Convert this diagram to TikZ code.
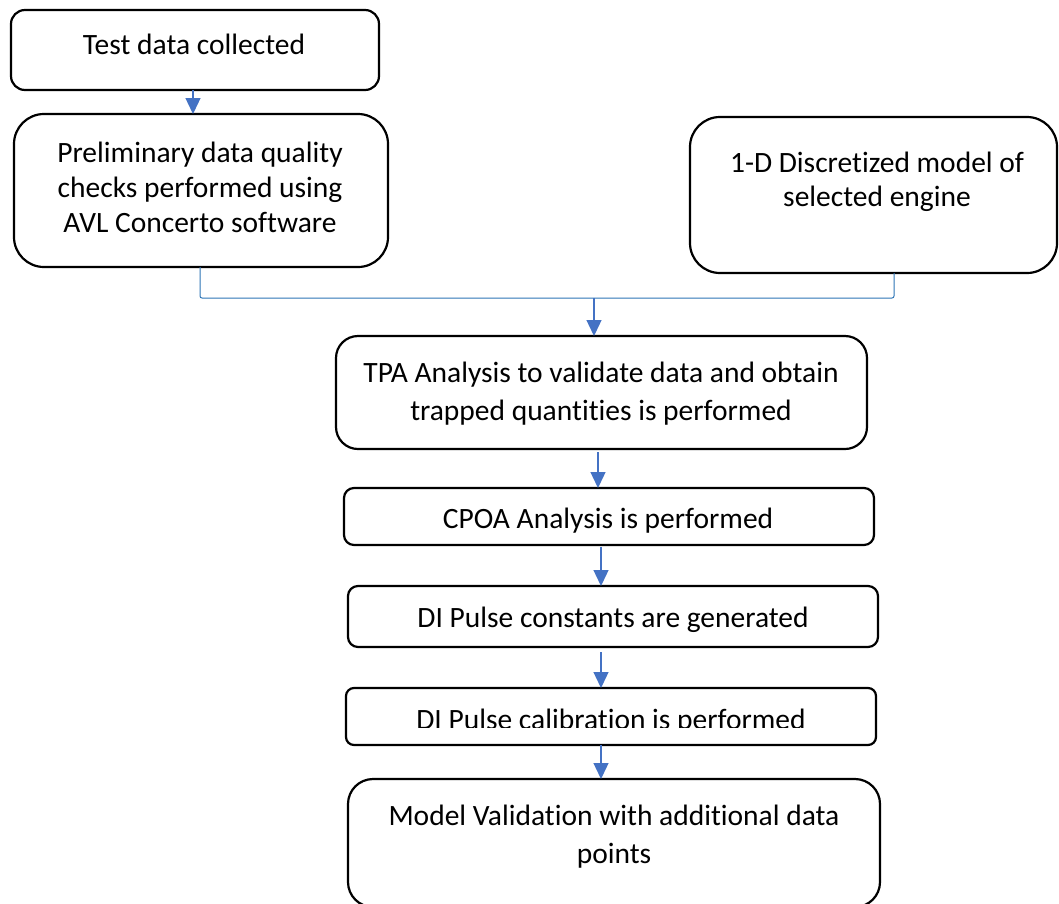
\documentclass[tikz,border=0pt]{standalone}
\usepackage{fontspec}
\setmainfont{Carlito}[Ligatures=NoCommon]
\usetikzlibrary{arrows.meta}
\definecolor{flowblue}{RGB}{68,114,196}
\definecolor{joinblue}{RGB}{46,117,182}
\begin{document}
\begin{tikzpicture}[x=1pt,y=-1pt,
  box/.style={draw=black,line width=2.2pt,inner sep=0pt,outer sep=0pt,fill=white},
  txt/.style={font=\fontsize{29.5}{36}\selectfont,align=center,inner sep=0pt,anchor=base},
  arr/.style={draw=flowblue,line width=1.3pt,-{Triangle[width=15pt,length=16pt]},shorten >=0pt},
  brk/.style={draw=joinblue,line width=1pt,rounded corners=2pt}]
\useasboundingbox (0,0) rectangle (1059,903);
\clip (0,0) rectangle (1059,903);
\fill[white] (0,0) rectangle (1059,903);

% process boxes
\node[box,rounded corners=14pt,minimum width=368pt,minimum height=80pt] (test) at (195,50) {};
\node[box,rounded corners=30pt,minimum width=374pt,minimum height=153pt] (prelim) at (201,190.5) {};
\node[box,rounded corners=30pt,minimum width=367pt,minimum height=156pt] (engine) at (873.5,195) {};
\node[box,rounded corners=22pt,minimum width=531pt,minimum height=113pt] (tpa) at (601.5,392.5) {};
\node[box,rounded corners=10pt,minimum width=530pt,minimum height=57pt] (cpoa) at (609,516.5) {};
\node[box,rounded corners=10pt,minimum width=530pt,minimum height=61pt] (dicon) at (613,616.5) {};
\node[box,rounded corners=8pt,minimum width=530pt,minimum height=57pt] (dical) at (611,716.5) {};
\node[box,rounded corners=25pt,minimum width=532pt,minimum height=128pt] (valid) at (614,843) {};

% box texts (base anchor = baseline of the last line)
\node[txt] (ttest) at (194,54) {Test data collected};
\node[txt,font=\fontsize{29.5}{35}\selectfont] (tprelim) at (200,232) {Preliminary data quality\\checks performed using\\AVL Concerto software};
\node[txt,font=\fontsize{29.5}{34}\selectfont] (tengine) at (877,206) {1-D Discretized model of\\selected engine};
\node[txt,font=\fontsize{29.5}{38}\selectfont] (ttpa) at (601,420) {TPA Analysis to validate data and obtain\\trapped quantities is performed};
\node[txt] (tcpoa) at (608,528) {CPOA Analysis is performed};
\node[txt] (tdicon) at (613,627) {DI Pulse constants are generated};
\begin{scope}
  \clip (346,688) rectangle (876,727);
  \node[txt] (tdical) at (611,729) {DI Pulse calibration is performed};
\end{scope}
\node[txt,font=\fontsize{29.5}{38}\selectfont] (tvalid) at (614,863) {Model Validation with additional data\\points};

% connectors
\draw[arr] (193,0 |- test.south) -- (193,0 |- prelim.north);
\coordinate (join) at (594,298);
\draw[brk] (200,0 |- prelim.south) -- (200,0 |- join) -- (894,0 |- join) -- (894,0 |- engine.south);
\draw[arr] (join) -- (594,0 |- tpa.north);
\draw[arr] (598,0 |- tpa.south) ++(0,3) -- (598,0 |- cpoa.north);
\draw[arr] (601,0 |- cpoa.south) ++(0,2) -- (601,0 |- dicon.north);
\draw[arr] (601,0 |- dicon.south) ++(0,5) -- (601,0 |- dical.north);
\draw[arr] (601,0 |- dical.south) -- (601,0 |- valid.north);
\end{tikzpicture}
\end{document}
